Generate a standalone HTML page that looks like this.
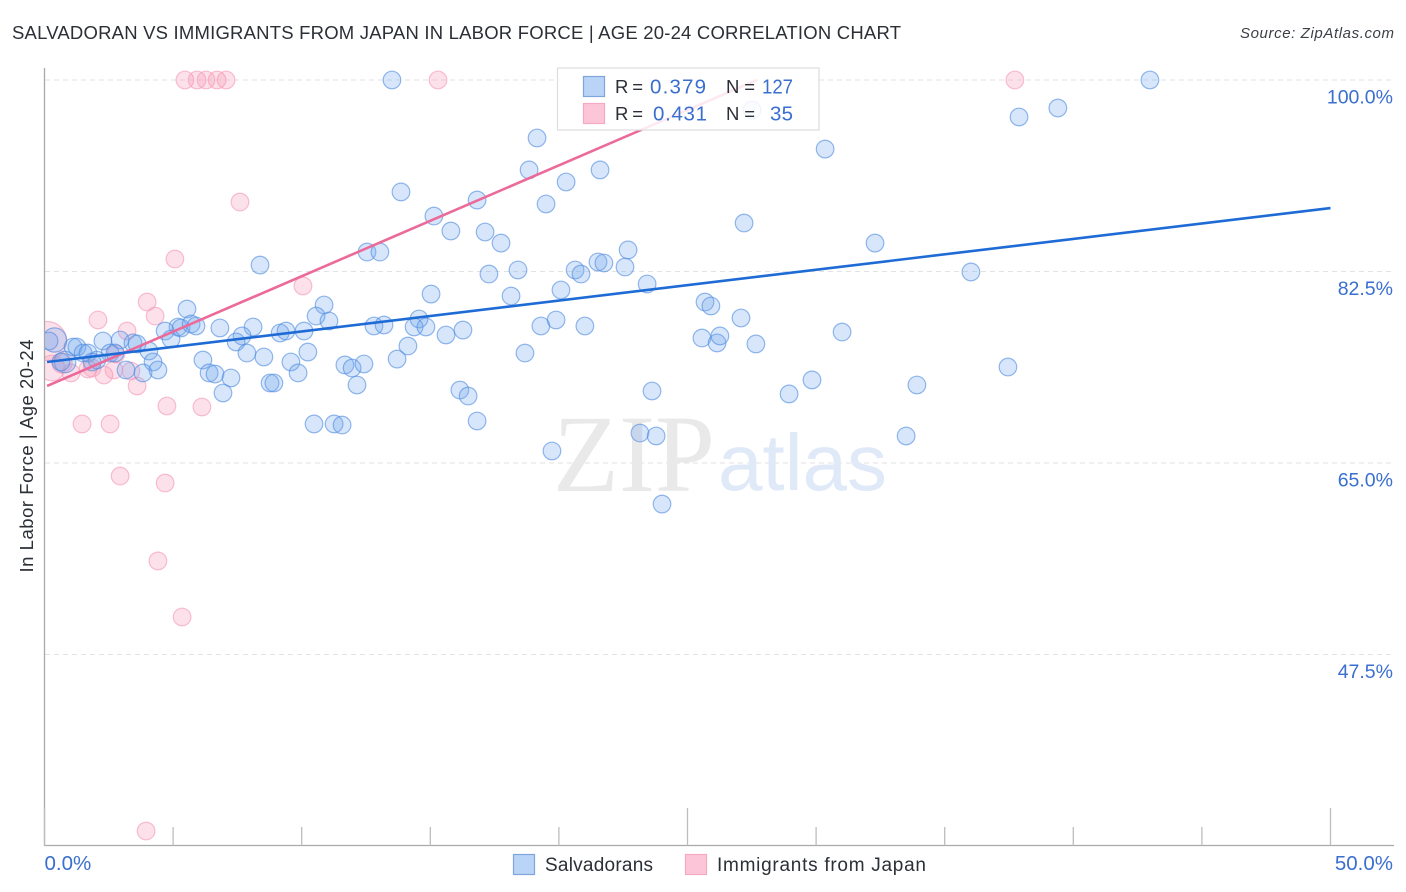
<!DOCTYPE html>
<html lang="en">
<head>
<meta charset="utf-8">
<title>Salvadoran vs Immigrants from Japan in Labor Force | Age 20-24 Correlation Chart</title>
<style>
html,body{margin:0;padding:0;background:#fff;}
svg{display:block;font-family:"Liberation Sans",sans-serif;}
</style>
</head>
<body>
<svg id="chart" xmlns="http://www.w3.org/2000/svg" width="1406" height="892" viewBox="0 0 1406 892">
  <rect x="0" y="0" width="1406" height="892" fill="#ffffff"/>
  <text x="12" y="39" font-size="18.5" fill="#2b2f36" textLength="889" lengthAdjust="spacing">SALVADORAN VS IMMIGRANTS FROM JAPAN IN LABOR FORCE | AGE 20-24 CORRELATION CHART</text>
  <text x="1394" y="38" font-size="15" font-style="italic" fill="#3c4148" text-anchor="end" textLength="154" lengthAdjust="spacing">Source: ZipAtlas.com</text>
  <g id="grid"></g>
  <g>
    <text x="553" y="491" font-size="110" fill="#e9e9e9" style="font-family:'Liberation Serif',serif" textLength="162" lengthAdjust="spacingAndGlyphs">ZIP</text>
    <text x="718" y="490" font-size="80" fill="#dfe9f7" textLength="169" lengthAdjust="spacingAndGlyphs">atlas</text>
  </g>
  <defs><clipPath id="plot-clip"><rect x="45" y="60" width="1349" height="785"/></clipPath></defs>
  <g id="points-japan" clip-path="url(#plot-clip)"></g>
  <g id="points-salvadoran" clip-path="url(#plot-clip)"></g>
  <g id="trends" clip-path="url(#plot-clip)"></g>
  <g id="axes">
    <line x1="44.5" y1="68" x2="44.5" y2="845.5" stroke="#a9a9a9" stroke-width="1.3"/>
    <line x1="44" y1="845.5" x2="1394" y2="845.5" stroke="#a9a9a9" stroke-width="1.3"/>
  </g>
  <g id="x-ticks"></g>
  <g id="y-labels"></g>
  <g id="x-labels"></g>
  <text transform="translate(33,456) rotate(-90)" font-size="18.5" fill="#2b2f36" text-anchor="middle" textLength="233" lengthAdjust="spacing">In Labor Force | Age 20-24</text>
  <g>
    <rect x="557.5" y="68" width="261.5" height="62" fill="#ffffff" fill-opacity="0.86" stroke="#dddddd" stroke-width="1.2"/>
    <rect x="583.5" y="76.5" width="21" height="20" fill="#b9d4f7" stroke="#7fa6dc" stroke-width="1.2"/>
    <rect x="583.5" y="103.5" width="21" height="20" fill="#fcc6d8" stroke="#f5a9c2" stroke-width="1.2"/>
    <text x="615" y="93" font-size="18.5" fill="#2b2f36" textLength="28">R =</text>
    <text x="650" y="93.5" font-size="20.5" fill="#3a6fcf" textLength="56">0.379</text>
    <text x="726" y="93" font-size="18.5" fill="#2b2f36" textLength="29">N =</text>
    <text x="762" y="93.5" font-size="20.5" fill="#3a6fcf" textLength="31" lengthAdjust="spacingAndGlyphs">127</text>
    <text x="615" y="120" font-size="18.5" fill="#2b2f36" textLength="28">R =</text>
    <text x="653" y="120.5" font-size="20.5" fill="#3a6fcf" textLength="54">0.431</text>
    <text x="726" y="120" font-size="18.5" fill="#2b2f36" textLength="29">N =</text>
    <text x="770" y="120.5" font-size="20.5" fill="#3a6fcf" textLength="23">35</text>
  </g>
  <g>
    <rect x="513.5" y="854.5" width="21" height="20" fill="#b9d4f7" stroke="#7fa6dc" stroke-width="1.2"/>
    <text x="545" y="871" font-size="19" fill="#2b2f36" textLength="108" lengthAdjust="spacing">Salvadorans</text>
    <rect x="685.5" y="854.5" width="21" height="20" fill="#fcc6d8" stroke="#f5a9c2" stroke-width="1.2"/>
    <text x="717" y="871" font-size="19" fill="#2b2f36" textLength="209" lengthAdjust="spacing">Immigrants from Japan</text>
  </g>
</svg>
<script>
// ---- chart data (x = Salvadoran / immigrants share %, y = labor force %) ----
const salvadoranX = [13.51,42.98,27.51,39.40,37.89,30.35,19.15,18.84,21.60,20.28,13.86,16.82,19.50,15.14,27.20,15.80,17.13,17.75,32.29,22.69,12.54,13.04,8.38,21.52,21.75,22.57,20.63,20.86,18.41,17.28,36.02,23.43,20.08,15.03,18.14,25.68,25.91,5.54,10.87,27.08,10.56,11.06,19.89,21.01,19.30,14.56,12.81,13.20,14.37,14.83,16.27,15.61,31.01,5.19,5.31,5.70,5.89,4.69,4.92,6.82,8.11,7.68,7.45,9.16,9.39,10.09,25.56,26.15,26.26,27.66,14.13,18.68,13.71,10.24,7.87,8.53,6.16,9.58,11.68,11.96,12.42,9.86,6.40,6.63,7.25,8.77,8.92,12.15,6.94,16.15,16.47,23.62,28.95,29.84,33.92,37.46,16.82,10.48,11.26,11.57,23.15,23.78,33.50,19.73,24.01,1.11,1.26,1.50,1.69,2.27,2.94,3.44,3.60,4.06,2.55,2.74,2.04,1.85,0.64,4.22,3.17,3.83,4.41,0.18];
const salvadoranY = [100,100,97.26,97.44,96.62,93.69,94.70,91.78,91.78,90.68,89.77,89.03,88.67,87.57,86.93,86.20,86.11,85.10,85.10,84.47,84.28,84.28,83.09,83.37,83.28,82.91,82.64,82.27,82.64,82.27,82.46,81.36,80.81,80.44,80.26,79.71,79.35,79.07,79.44,78.25,78.43,77.98,78.07,77.52,77.52,78.16,77.52,77.61,77.43,77.43,77.15,76.70,76.97,77.43,77.34,77.70,77.52,77.06,76.33,77.34,77.43,76.61,76.06,76.88,77.06,77.06,76.42,75.97,76.61,75.88,75.69,75.05,74.50,75.14,75.05,74.69,74.41,74.23,73.96,73.68,74.05,73.23,73.23,73.13,72.77,72.31,72.31,72.13,71.40,71.67,71.12,71.58,71.31,72.59,72.13,73.77,68.84,68.57,68.57,68.47,67.74,67.47,67.47,66.10,61.25,75.60,75.60,75.05,75.05,76.15,76.24,75.97,75.88,75.24,75.05,75.05,74.41,74.23,74.23,74.23,73.50,73.23,73.50,76.15];
const salvadoranLargeX = [0.39,0.80];
const salvadoranLargeY = [76.24,74.23];
const salvadoranLargeWeight = [1.9,1.5];

const japanX = [5.46,5.93,6.28,6.71,7.06,15.30,37.73,7.60,5.07,10.05,3.99,4.30,2.08,3.21,2.78,1.69,1.85,1.03,2.31,2.70,3.36,3.60,4.76,6.12,1.46,2.55,2.94,4.69,4.41,5.35,3.95];
const japanY = [100,100,100,100,100,100,100,88.85,83.64,81.18,79.71,78.43,78.07,77.06,74.96,73.59,73.68,73.23,73.04,73.50,73.41,72.04,70.21,70.12,68.57,68.57,63.81,63.17,56.05,50.93,31.37];
const japanLargeX = [0.10,0.68,0.29];
const japanLargeY = [76.15,74.14,73.68];
const japanLargeWeight = [4.9,1.3,2.1];

const salvadoranTrendX = [0.1,50];
const salvadoranTrendY = [74.23,88.30];
const japanTrendX = [0.1,27.7];
const japanTrendY = [72.04,100];

const yTickValues = [100,82.5,65,47.5];
const yTickLabels = ["100.0%","82.5%","65.0%","47.5%"];
const xTickValues = [0,5,10,15,20,25,30,35,40,45,50];
const xMajorTicks = [0,25,50];
const xLabelValues = [0,50];
const xLabelTexts = ["0.0%","50.0%"];

// ---- axis functions ----
const SVGNS = "http://www.w3.org/2000/svg";
function xScale(v){ return 44.5 + v * 25.72; }
function yScale(v){ return 80 + (100 - v) * 10.943; }
function make(tag, attrs, parent){
  const el = document.createElementNS(SVGNS, tag);
  for (const k in attrs) el.setAttribute(k, attrs[k]);
  parent.appendChild(el);
  return el;
}

// gridlines and y labels
const gridGroup = document.getElementById("grid");
const yLabelGroup = document.getElementById("y-labels");
yTickValues.forEach(function(v, i){
  const line = make("line", {x1:45, x2:1394, y1:yScale(v), y2:yScale(v), stroke:"#e2e2e2", "stroke-width":1, "stroke-dasharray":"5 4"}, gridGroup);
  
  
  const label = make("text", {x:1393, y:yScale(v)+23.5, "font-size":19.5, fill:"#3a6fcf", "text-anchor":"end"}, yLabelGroup);
  label.textContent = yTickLabels[i];
  
  
});

// x ticks and labels
const xTickGroup = document.getElementById("x-ticks");
xTickValues.forEach(function(v){
  const top = xMajorTicks.indexOf(v) >= 0 ? 808 : 827;
  const tick = make("line", {x1:xScale(v), x2:xScale(v), y1:top, y2:845.5, stroke:"#bdbdbd", "stroke-width":1.3}, xTickGroup);
  
  
});
const xLabelGroup = document.getElementById("x-labels");
xLabelValues.forEach(function(v, i){
  const isFirst = i === 0;
  const label = make("text", {x: isFirst ? xScale(v) : 1393, y:870, "font-size":20.5, fill:"#3a6fcf", "text-anchor": isFirst ? "start" : "end"}, xLabelGroup);
  label.textContent = xLabelTexts[i];
  
  
});

// points
const BASE_RADIUS = 8.8;
function drawPoints(group, xs, ys, weight, fill, fillOpacity, stroke, strokeOpacity, name){
  xs.forEach(function(x, i){
    const w = weight ? weight[i] : 1;
    const c = make("circle", {cx:xScale(x), cy:yScale(ys[i]), r:BASE_RADIUS*Math.sqrt(w), fill:fill, "fill-opacity":fillOpacity, stroke:stroke, "stroke-opacity":strokeOpacity, "stroke-width":1.2}, group);
    
    
  });
}
const japanGroup = document.getElementById("points-japan");
drawPoints(japanGroup, japanLargeX, japanLargeY, japanLargeWeight, "#f78fb0", 0.27, "#f5a3bd", 0.7, "japan-point");
drawPoints(japanGroup, japanX, japanY, null, "#f78fb0", 0.27, "#f5a3bd", 0.7, "japan-point");
const salvadoranGroup = document.getElementById("points-salvadoran");
drawPoints(salvadoranGroup, salvadoranLargeX, salvadoranLargeY, salvadoranLargeWeight, "#6ea6ee", 0.28, "#4d8bdf", 0.6, "salvadoran-point");
drawPoints(salvadoranGroup, salvadoranX, salvadoranY, null, "#6ea6ee", 0.28, "#4d8bdf", 0.6, "salvadoran-point");

// trend lines
const trendGroup = document.getElementById("trends");
const japanTrend = make("line", {x1:xScale(japanTrendX[0]), y1:yScale(japanTrendY[0]), x2:xScale(japanTrendX[1]), y2:yScale(japanTrendY[1]), stroke:"#ec6a9a", "stroke-width":2.6}, trendGroup);


const salvadoranTrend = make("line", {x1:xScale(salvadoranTrendX[0]), y1:yScale(salvadoranTrendY[0]), x2:xScale(salvadoranTrendX[1]), y2:yScale(salvadoranTrendY[1]), stroke:"#1f6bd6", "stroke-width":2.6}, trendGroup);


</script>
</body>
</html>
